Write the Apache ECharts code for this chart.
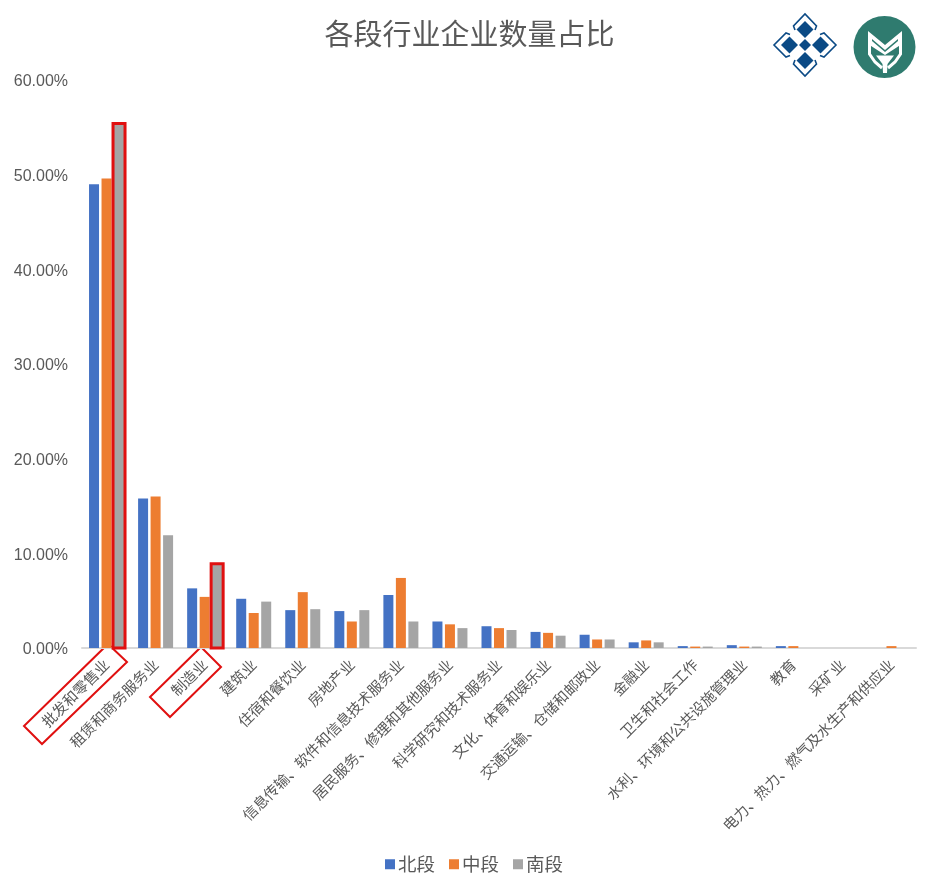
<!DOCTYPE html>
<html><head><meta charset="utf-8">
<style>html,body{margin:0;padding:0;background:#fff}#c{width:939px;height:894px}</style>
<script src="https://cdn.jsdelivr.net/npm/echarts@6/dist/echarts.min.js"></script>
</head><body><div id="c"></div>
<script>
const titleText = '各段行业企业数量占比';
const categories = ['批发和零售业','租赁和商务服务业','制造业','建筑业','住宿和餐饮业','房地产业','信息传输、软件和信息技术服务业','居民服务、修理和其他服务业','科学研究和技术服务业','文化、体育和娱乐业','交通运输、仓储和邮政业','金融业','卫生和社会工作','水利、环境和公共设施管理业','教育','采矿业','电力、热力、燃气及水生产和供应业'];
const north = [49.0,15.8,6.3,5.2,4.0,3.9,5.6,2.8,2.3,1.7,1.4,0.6,0.2,0.3,0.2,0,0];
const middle = [49.6,16.0,5.4,3.7,5.9,2.8,7.4,2.5,2.1,1.6,0.9,0.8,0.15,0.15,0.2,0,0.2];
const south = [55.4,11.9,8.9,4.9,4.1,4.0,2.8,2.1,1.9,1.3,0.9,0.6,0.15,0.15,0,0,0];
const highlightedSouth = [0,2];
const seriesNames = ['北段','中段','南段'];
const colors = ['#4472C4','#ED7D31','#A5A5A5'];
const CJK = '"Noto Sans CJK SC","Noto Sans",sans-serif';
const red = '#E01010', navy = '#0B4A85', teal = '#2F7B6F';

function diamond(cx, cy, r, fill){
  return {type:'polygon', shape:{points:[[cx,cy-r],[cx+r,cy],[cx,cy+r],[cx-r,cy]]}, style:{fill:fill}};
}
function outline(pts, w){
  return {type:'polyline', shape:{points:pts}, style:{stroke:navy, lineWidth:w, fill:null}};
}
const logoA = [
  diamond(805,45,6,navy), diamond(805,29.5,8.5,navy), diamond(805,60.5,8.5,navy), diamond(789.5,45,8.5,navy), diamond(820.5,45,8.5,navy),
  outline([[795,30],[793.5,26],[805,14],[816.5,26],[815,30]],1.6),
  outline([[795,60],[793.5,64],[805,76],[816.5,64],[815,60]],1.6),
  outline([[790,34.5],[786,33],[774,45],[786,57],[790,55.5]],1.6),
  outline([[820,34.5],[824,33],[836,45],[824,57],[820,55.5]],1.6)
];
const logoB = [
  {type:'circle', shape:{cx:884.5,cy:47,r:31}, style:{fill:teal}},
  {type:'polygon', shape:{points:[[868,31],[885,45],[902,31],[902,44],[885,55],[868,44]]}, style:{fill:'#fff'}},
  {type:'polygon', shape:{points:[[872,39],[885,50],[898,39],[898,41],[885,52],[872,41]]}, style:{fill:teal}},
  {type:'polyline', shape:{points:[[869.5,44],[869.5,54],[875,62],[882,68]]}, style:{stroke:'#fff',lineWidth:3,fill:null}},
  {type:'polyline', shape:{points:[[900.5,44],[900.5,54],[895,62],[888,68]]}, style:{stroke:'#fff',lineWidth:3,fill:null}},
  {type:'polygon', shape:{points:[[876,55.5],[894,55.5],[887.5,64],[887,73],[883,73],[882.5,64]]}, style:{fill:'#fff'}}
];
const labelBoxes = [
  {type:'polygon', shape:{points:[[108,644],[127,662],[42,744],[24,726]]}, style:{stroke:red,lineWidth:2,fill:null}},
  {type:'polygon', shape:{points:[[201,647],[221,667],[170,717],[150,697]]}, style:{stroke:red,lineWidth:2,fill:null}}
];
function seriesOf(i, values){
  return {name: seriesNames[i], type:'bar', barWidth:10, barGap:'25%', itemStyle:{color:colors[i]}, data: values};
}
// Red frames around the highlighted south bars, placed through the axis scales.
const frameSeries = {
  type:'custom', silent:true, z:5,
  data: highlightedSouth.map(k=>[k, south[k]]),
  encode:{x:0,y:1},
  renderItem(params, api){
    const top = api.coord([api.value(0), api.value(1)]);
    const base = api.coord([api.value(0), 0]);
    return {type:'rect', shape:{x:top[0]+12.5-6, y:top[1], width:12, height:base[1]-top[1]},
      style:{fill:null, stroke:red, lineWidth:3}};
  }
};
const chart = echarts.init(document.getElementById('c'), null, {renderer:'canvas'});
chart.setOption({
  animation:false,
  backgroundColor:'#fff',
  color:colors,
  title:{text:titleText, left:'center', top:14, textStyle:{fontFamily:CJK,fontSize:29,fontWeight:'normal',color:'#595959'}},
  legend:{left:380, top:850, itemWidth:10, itemHeight:10, itemGap:14, icon:'rect', data:seriesNames,
    textStyle:{fontFamily:CJK,fontSize:18.5,color:'#595959',padding:[0,0,0,-2]}},
  grid:{left:82, right:23, top:80, bottom:246, containLabel:false},
  xAxis:{type:'category', data:categories,
    axisLine:{lineStyle:{color:'#D9D9D9',width:2}}, axisTick:{show:false},
    axisLabel:{rotate:45, interval:0, margin:14, fontFamily:CJK, fontSize:14.7, color:'#595959'}},
  yAxis:{type:'value', min:0, max:60, interval:10,
    axisLine:{show:false}, axisTick:{show:false}, splitLine:{show:false},
    axisLabel:{margin:14, formatter:v=>'{a|'+v.toFixed(2)+'%}',
      rich:{a:{padding:[4,0,0,0], fontFamily:'"Liberation Sans",Arial,sans-serif', fontSize:16, color:'#595959'}}}},
  series:[seriesOf(0,north),seriesOf(1,middle),seriesOf(2,south),frameSeries],
  graphic:[...labelBoxes,...logoA,...logoB]
});
</script></body></html>
